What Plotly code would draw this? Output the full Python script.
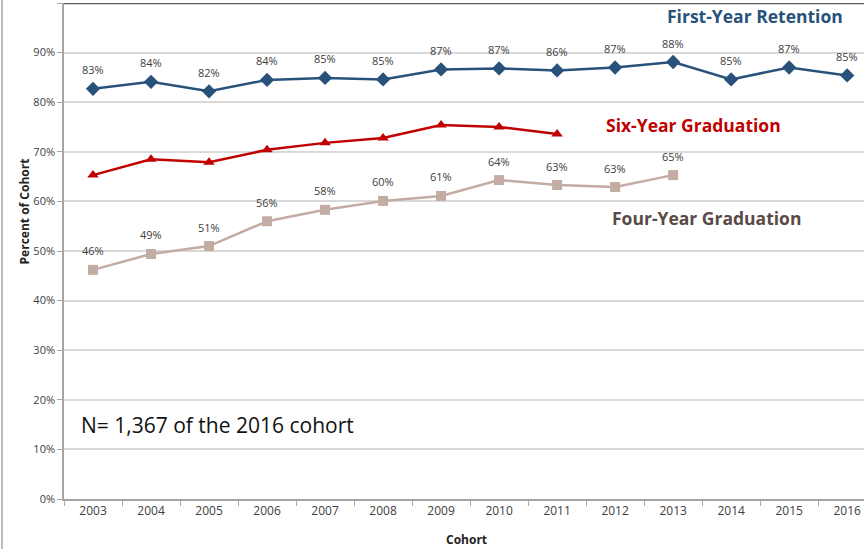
import plotly.graph_objects as go

# cohort years on the x axis
years = [str(y) for y in range(2003, 2017)]

# first-year retention (%), all cohorts
retention = [82.7, 84.1, 82.2, 84.5, 84.9, 84.6, 86.6, 86.8, 86.4, 87.0, 88.1, 84.6, 87.0, 85.4]
# six-year graduation (%), 2003-2011 cohorts
six_year = [65.3, 68.5, 67.9, 70.4, 71.8, 72.8, 75.4, 75.0, 73.6]
# four-year graduation (%), 2003-2013 cohorts
four_year = [46.2, 49.4, 51.0, 56.0, 58.3, 60.1, 61.1, 64.3, 63.3, 62.9, 65.3]

BLUE = "#28527A"
RED = "#C00000"
TAN = "#C3ACA4"
TXT = "#404040"
FONT = "Open Sans"

fig = go.Figure()

fig.add_trace(go.Scatter(
    x=years, y=retention, mode="lines+markers",
    line=dict(color=BLUE, width=2.5),
    marker=dict(symbol="diamond", size=11, color=BLUE),
))
fig.add_trace(go.Scatter(
    x=years[:len(six_year)], y=six_year, mode="lines+markers",
    line=dict(color=RED, width=2.5),
    marker=dict(symbol="triangle-up", size=10, color=RED),
))
fig.add_trace(go.Scatter(
    x=years[:len(four_year)], y=four_year, mode="lines+markers",
    line=dict(color=TAN, width=2.5),
    marker=dict(symbol="square", size=10, color=TAN),
))

# data labels above the points (category index for x)
for ys in [retention, four_year]:
    for i, y in enumerate(ys):
        fig.add_annotation(
            x=i, y=y, text=f"{y:.0f}%", showarrow=False, yshift=19,
            font=dict(family=FONT, size=11, color=TXT),
        )

# series names written in the plot
fig.add_annotation(x=0.976, xref="paper", y=97.4, text="<b>First-Year Retention</b>",
                   showarrow=False, xanchor="right",
                   font=dict(family=FONT, size=17.5, color=BLUE))
fig.add_annotation(x=0.899, xref="paper", y=75.4, text="<b>Six-Year Graduation</b>",
                   showarrow=False, xanchor="right",
                   font=dict(family=FONT, size=17.5, color=RED))
fig.add_annotation(x=0.924, xref="paper", y=56.7, text="<b>Four-Year Graduation</b>",
                   showarrow=False, xanchor="right",
                   font=dict(family=FONT, size=17.5, color="#5A4A45"))
fig.add_annotation(x=0.019, xref="paper", y=14.9, text="N= 1,367 of the 2016 cohort",
                   showarrow=False, xanchor="left",
                   font=dict(family=FONT, size=21, color="#111111"))

# axis titles
fig.add_annotation(x=-0.063, xref="paper", y=0.58, yref="paper", text="<b>Percent of Cohort</b>",
                   showarrow=False, textangle=-90,
                   font=dict(family=FONT, size=12, color="#222222"))
fig.add_annotation(x=0.503, xref="paper", y=-0.081, yref="paper", text="<b>Cohort</b>",
                   showarrow=False, yanchor="middle",
                   font=dict(family=FONT, size=12, color="#222222"))

# dark top border of plot area, outer chart border on the left
fig.add_shape(type="line", xref="paper", yref="y", x0=0, x1=1, y0=100, y1=100,
              line=dict(color="#595959", width=2.5))
fig.add_shape(type="line", xref="paper", yref="paper", x0=-0.0775, x1=-0.0775, y0=-0.2, y1=1.1,
              line=dict(color="#A6A6A6", width=1.5))

fig.update_xaxes(
    type="category", range=[-0.5, 13.29], automargin=False,
    showgrid=False, showline=True, linecolor="#A6A6A6", linewidth=1.5,
    ticks="outside", tickson="boundaries", ticklen=5, tickcolor="#A6A6A6",
    tickfont=dict(family=FONT, size=12, color=TXT),
)
fig.update_yaxes(
    range=[0, 100], dtick=10, ticksuffix="%", automargin=False,
    showgrid=True, gridcolor="#D9D9D9", gridwidth=1.5,
    showline=True, linecolor="#A6A6A6", linewidth=1.5,
    ticks="outside", ticklen=5, tickcolor="#A6A6A6", zeroline=False,
    tickfont=dict(family=FONT, size=11, color=TXT),
)

fig.update_layout(
    width=864, height=549,
    margin=dict(l=64, r=0, t=3, b=50),
    showlegend=False,
    plot_bgcolor="white", paper_bgcolor="white",
    font=dict(family=FONT),
)

# page body has a default 8px margin; drop it so the figure fills the window
fig.write_html("out.html", config={"displayModeBar": False},
               post_script="document.body.style.margin='0';")
